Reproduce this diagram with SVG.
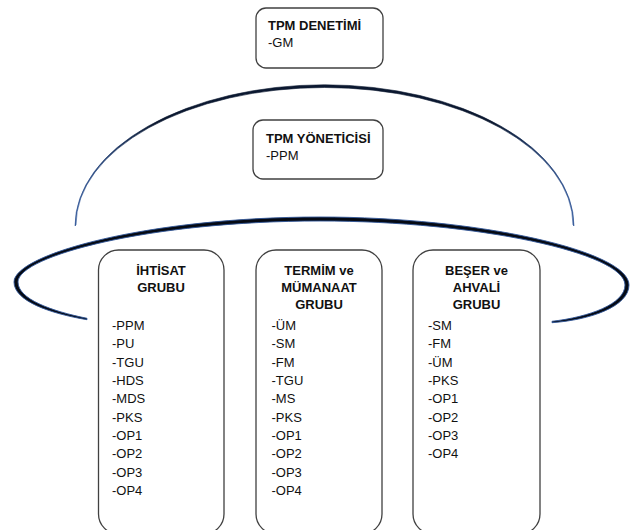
<svg xmlns="http://www.w3.org/2000/svg" width="630" height="530" viewBox="0 0 630 530">
  <defs>
    <linearGradient id="domeInk" x1="76" y1="0" x2="573" y2="0" gradientUnits="userSpaceOnUse">
      <stop offset="0" stop-color="#2f5597"/>
      <stop offset="0.16" stop-color="#0b1830"/>
      <stop offset="0.84" stop-color="#0b1830"/>
      <stop offset="1" stop-color="#2f5597"/>
    </linearGradient>
    <style>
      .box { fill: #ffffff; stroke: #404040; stroke-width: 1.3; }
      .title { font-family: "Liberation Sans", Arial, sans-serif; font-size: 13px; font-weight: bold; fill: #111111; }
      .item { font-family: "Liberation Sans", Arial, sans-serif; font-size: 13px; fill: #111111; }
      .head { font-family: "Liberation Sans", Arial, sans-serif; font-size: 13px; font-weight: bold; fill: #111111; text-anchor: middle; }
      .ring { fill: #050a14; stroke: #2f5597; stroke-width: 0.9; stroke-linejoin: round; }
    </style>
  </defs>
  <rect width="630" height="530" fill="#ffffff"/>

  <!-- arcs: dome over the manager and the tapered ring around the groups -->
  <g id="connectors">
    <path d="M75,226 A249,141 0 0 1 574,226 L573,225 A248.5,137.5 0 0 0 76,225 Z" fill="url(#domeInk)" stroke="url(#domeInk)" stroke-width="0.6"/>
    <path class="ring" d="M87,319.7 C50,313.5 14,301 14,282 C14,254 150,217 320,217 C479,217 629,251 629,285 C629,306.5 590,320 552,322.7 L552,321.3 C589,317 625,304 625,285 C625,253 477,221 320,221 C150,221 18,256 18,282 C18,299 51,311 87,318.3 Z"/>
  </g>

  <g id="node-denetim">
    <rect class="box" x="256" y="8" width="127" height="60" rx="10"/>
    <text class="title" x="268" y="29.5">TPM DENETİMİ</text>
    <text class="item" x="268" y="47">-GM</text>
  </g>

  <g id="node-yonetici">
    <rect class="box" x="253" y="120" width="130" height="59" rx="10"/>
    <text class="title" x="266" y="142.5">TPM YÖNETİCİSİ</text>
    <text class="item" x="266" y="160">-PPM</text>
  </g>

  <g id="node-ihtisat">
    <rect class="box" x="98.5" y="250" width="125.5" height="284" rx="20"/>
    <text class="head" x="161" y="275">İHTİSAT</text>
    <text class="head" x="161" y="292">GRUBU</text>
    <g class="item">
      <text x="112" y="330">-PPM</text>
      <text x="112" y="348.3">-PU</text>
      <text x="112" y="366.7">-TGU</text>
      <text x="112" y="385">-HDS</text>
      <text x="112" y="403.3">-MDS</text>
      <text x="112" y="421.7">-PKS</text>
      <text x="112" y="440">-OP1</text>
      <text x="112" y="458.3">-OP2</text>
      <text x="112" y="476.7">-OP3</text>
      <text x="112" y="495">-OP4</text>
    </g>
  </g>

  <g id="node-termim">
    <rect class="box" x="256" y="250" width="126" height="284" rx="20"/>
    <text class="head" x="319" y="275">TERMİM ve</text>
    <text class="head" x="319" y="292">MÜMANAAT</text>
    <text class="head" x="319" y="309">GRUBU</text>
    <g class="item">
      <text x="271.5" y="330">-ÜM</text>
      <text x="271.5" y="348.3">-SM</text>
      <text x="271.5" y="366.7">-FM</text>
      <text x="271.5" y="385">-TGU</text>
      <text x="271.5" y="403.3">-MS</text>
      <text x="271.5" y="421.7">-PKS</text>
      <text x="271.5" y="440">-OP1</text>
      <text x="271.5" y="458.3">-OP2</text>
      <text x="271.5" y="476.7">-OP3</text>
      <text x="271.5" y="495">-OP4</text>
    </g>
  </g>

  <g id="node-beser">
    <rect class="box" x="413" y="250" width="127" height="284" rx="20"/>
    <text class="head" x="476.5" y="275">BEŞER ve</text>
    <text class="head" x="476.5" y="292">AHVALİ</text>
    <text class="head" x="476.5" y="309">GRUBU</text>
    <g class="item">
      <text x="428" y="330">-SM</text>
      <text x="428" y="348.3">-FM</text>
      <text x="428" y="366.7">-ÜM</text>
      <text x="428" y="385">-PKS</text>
      <text x="428" y="403.3">-OP1</text>
      <text x="428" y="421.7">-OP2</text>
      <text x="428" y="440">-OP3</text>
      <text x="428" y="458.3">-OP4</text>
    </g>
  </g>
</svg>
